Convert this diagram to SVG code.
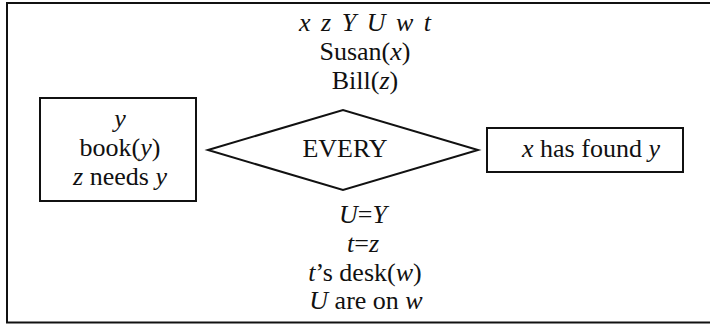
<svg xmlns="http://www.w3.org/2000/svg" width="710" height="325" viewBox="0 0 710 325">
<style>
text{font-family:"Liberation Serif","Times New Roman",serif;font-size:26px;fill:#111;text-anchor:middle}
.i{font-style:italic}
.shape{fill:none;stroke:#111;stroke-width:2}
</style>
<rect x="0" y="0" width="710" height="325" fill="#fff"/>
<g id="frame">
<path class="shape" d="M710,3 H7 V322.5 H710"/>
</g>
<g id="top-conditions">
<text x="365" y="31" class="i" style="word-spacing:4px">x z Y U w t</text>
<text x="365" y="60">Susan(<tspan class="i">x</tspan>)</text>
<text x="365" y="89">Bill(<tspan class="i">z</tspan>)</text>
</g>
<g id="restrictor">
<rect class="shape" x="40" y="98" width="156" height="103"/>
<text x="120" y="127" class="i">y</text>
<text x="120" y="156">book(<tspan class="i">y</tspan>)</text>
<text x="120" y="185"><tspan class="i">z</tspan> needs <tspan class="i">y</tspan></text>
</g>
<g id="every">
<polygon class="shape" points="208,150 343,110 478,150 343,190"/>
<text x="345" y="157">EVERY</text>
</g>
<g id="scope">
<rect class="shape" x="487" y="128" width="196" height="44"/>
<text x="591" y="157"><tspan class="i">x</tspan> has found <tspan class="i">y</tspan></text>
</g>
<g id="bottom-conditions">
<text x="363" y="223"><tspan class="i">U</tspan>=<tspan class="i">Y</tspan></text>
<text x="363" y="252"><tspan class="i">t</tspan>=<tspan class="i">z</tspan></text>
<text x="365" y="281"><tspan class="i">t</tspan>’s desk(<tspan class="i">w</tspan>)</text>
<text x="366" y="309"><tspan class="i">U</tspan> are on <tspan class="i">w</tspan></text>
</g>
<g id="connectors"></g>
</svg>
